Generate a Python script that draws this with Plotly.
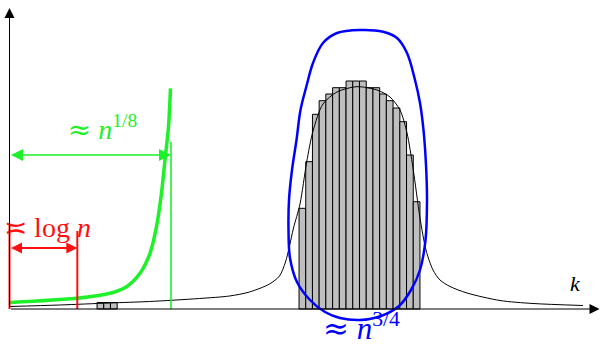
import plotly.graph_objects as go

# ---- data (k = position on horizontal axis, h = height above axis) ----
bar_k = [292.9, 299.6, 306.3, 313.0, 319.7, 326.5, 333.2, 339.9, 346.6,
         353.4, 360.1, 366.8, 373.5, 380.2, 387.0, 393.7, 400.4, 407.1]
bar_h = [100.7, 147.3, 194.7, 208.3, 215, 221.3, 221.3, 228, 228,
         228, 221.3, 221.3, 215, 208.3, 201, 187.3, 154, 107.3]
small_bar_k = [90.9, 97.6, 104.3]
small_bar_h = [6.5, 6.5, 6.5]
bar_width = 6.72

curve_k = [0, 50, 100, 140, 190, 220, 240, 260, 270, 276, 280, 284, 290.5, 297.2,
           303.5, 313.5, 327.5, 347.5, 367.5, 380.5, 390.5, 397.5, 403.5, 410.5,
           416.5, 423.5, 430.5, 440.5, 457.5, 490.5, 523.5, 573.5]
curve_h = [2.5, 4, 6, 7.5, 10.5, 13, 17, 25, 33, 47, 63, 81, 105, 147,
           178, 205, 217, 222.3, 219, 212, 199, 176, 141, 91,
           59, 39, 29, 22.5, 16, 8.5, 5.5, 3.5]

green_k = [0.5, 67, 100.5, 117, 130.5, 140.5, 147, 152, 155.5, 159, 161]
green_h = [6.5, 10.7, 15.7, 22.3, 35.7, 55.7, 82.3, 116, 149, 182.3, 220.7]

loop_k = [350.5, 373.5, 387.5, 397.5, 405.5, 410.5, 414, 416.5, 417.5, 416, 410.5,
          401.5, 389.5, 371.5, 350.5, 330.5, 315.5, 300.5, 287.5, 280.5, 279,
          279.5, 282.5, 287, 291, 297, 303.5, 313.5, 327.5, 350.5]
loop_h = [279, 277.3, 271, 256, 229, 206, 179, 144, 109, 69, 39,
          19, 3, -7, -11, -9, -3, 9, 27, 51, 79,
          109, 139, 169, 199, 223, 246, 266, 276, 279]

n18_k = 161.5      # width ≈ n^{1/8}
n18_top = 167
n18_arrow_h = 154
logn_k = 67.8      # width ≍ log n
logn_tops = [83, 78]
logn_arrow_h = 61

AP = '<span style="font-family:DejaVu Serif">≈</span>'
label_texts = [AP + " <i>n</i><sup>1/8</sup>",
               '<span style="font-family:DejaVu Serif">≍</span> log <i>n</i>',
               AP + " <i>n</i><sup>3/4</sup>",
               "<i>k</i>"]
label_k = [93, 38, 352, 565.5]
label_h = [177, 79, -22, 24]

GREEN = "#1ef02a"
RED = "#ff1010"
BLUE = "#0000ff"
SERIF = "Liberation Serif, DejaVu Serif, serif"

fig = go.Figure()

fig.add_trace(go.Bar(x=bar_k, y=bar_h, width=bar_width,
                     marker=dict(color="#bfbfbf", line=dict(color="#000000", width=1))))
fig.add_trace(go.Bar(x=small_bar_k, y=small_bar_h, width=bar_width,
                     marker=dict(color="#bfbfbf", line=dict(color="#000000", width=1))))

fig.add_trace(go.Scatter(x=curve_k, y=curve_h, mode="lines",
                         line=dict(color="black", width=1, shape="spline", smoothing=0.8)))

fig.add_trace(go.Scatter(x=green_k, y=green_h, mode="lines",
                         line=dict(color=GREEN, width=3.5, shape="spline", smoothing=0.8)))
fig.add_trace(go.Scatter(x=[n18_k, n18_k], y=[0, n18_top], mode="lines",
                         line=dict(color=GREEN, width=1.6)))

fig.add_trace(go.Scatter(x=[0, 0], y=[0, logn_tops[0]], mode="lines",
                         line=dict(color=RED, width=2), cliponaxis=False))
fig.add_trace(go.Scatter(x=[logn_k, logn_k], y=[0, logn_tops[1]], mode="lines",
                         line=dict(color=RED, width=2)))

fig.add_trace(go.Scatter(x=loop_k, y=loop_h, mode="lines",
                         line=dict(color=BLUE, width=2.5, shape="spline", smoothing=1.0)))

label_colors = [GREEN, RED, BLUE, "black"]
label_sizes = [28, 28, 31, 22]
for t, xk, yh, c, s in zip(label_texts, label_k, label_h, label_colors, label_sizes):
    fig.add_trace(go.Scatter(x=[xk], y=[yh], mode="text", text=[t],
                             textposition="middle center", cliponaxis=False,
                             textfont=dict(family=SERIF, size=s, color=c)))

ann = []
# axes with arrows
ann.append(dict(x=590, y=0, ax=0, ay=0, xref="x", yref="y", axref="x", ayref="y",
                text="", showarrow=True, arrowhead=2, arrowsize=2.0, arrowwidth=1,
                arrowcolor="black", standoff=0))
ann.append(dict(x=0, y=301, ax=0, ay=0, xref="x", yref="y", axref="x", ayref="y",
                text="", showarrow=True, arrowhead=2, arrowsize=2.0, arrowwidth=1,
                arrowcolor="black", standoff=0))
# green double arrow
ann.append(dict(x=n18_k, y=n18_arrow_h, ax=0, ay=n18_arrow_h, xref="x", yref="y",
                axref="x", ayref="y", text="", showarrow=True, arrowhead=2,
                startarrowhead=2, arrowside="end+start", arrowsize=1.5,
                startarrowsize=1.5, arrowwidth=1.6, arrowcolor=GREEN,
                standoff=0, startstandoff=0))
# red double arrow
ann.append(dict(x=logn_k, y=logn_arrow_h, ax=0, ay=logn_arrow_h, xref="x", yref="y",
                axref="x", ayref="y", text="", showarrow=True, arrowhead=2,
                startarrowhead=2, arrowside="end+start", arrowsize=1.1,
                startarrowsize=1.1, arrowwidth=2, arrowcolor=RED,
                standoff=0, startstandoff=0))

fig.update_layout(
    width=600, height=345,
    margin=dict(l=0, r=0, t=0, b=0, autoexpand=False),
    paper_bgcolor="white", plot_bgcolor="white",
    showlegend=False, barmode="overlay", hovermode=False,
    annotations=ann,
    xaxis=dict(range=[-9.5, 590.5], visible=False, fixedrange=True),
    yaxis=dict(range=[-36, 309], visible=False, fixedrange=True),
)

fig.write_html("out.html", config={"displayModeBar": False, "staticPlot": True},
               post_script="document.body.style.margin='0';document.body.style.overflow='hidden';")
